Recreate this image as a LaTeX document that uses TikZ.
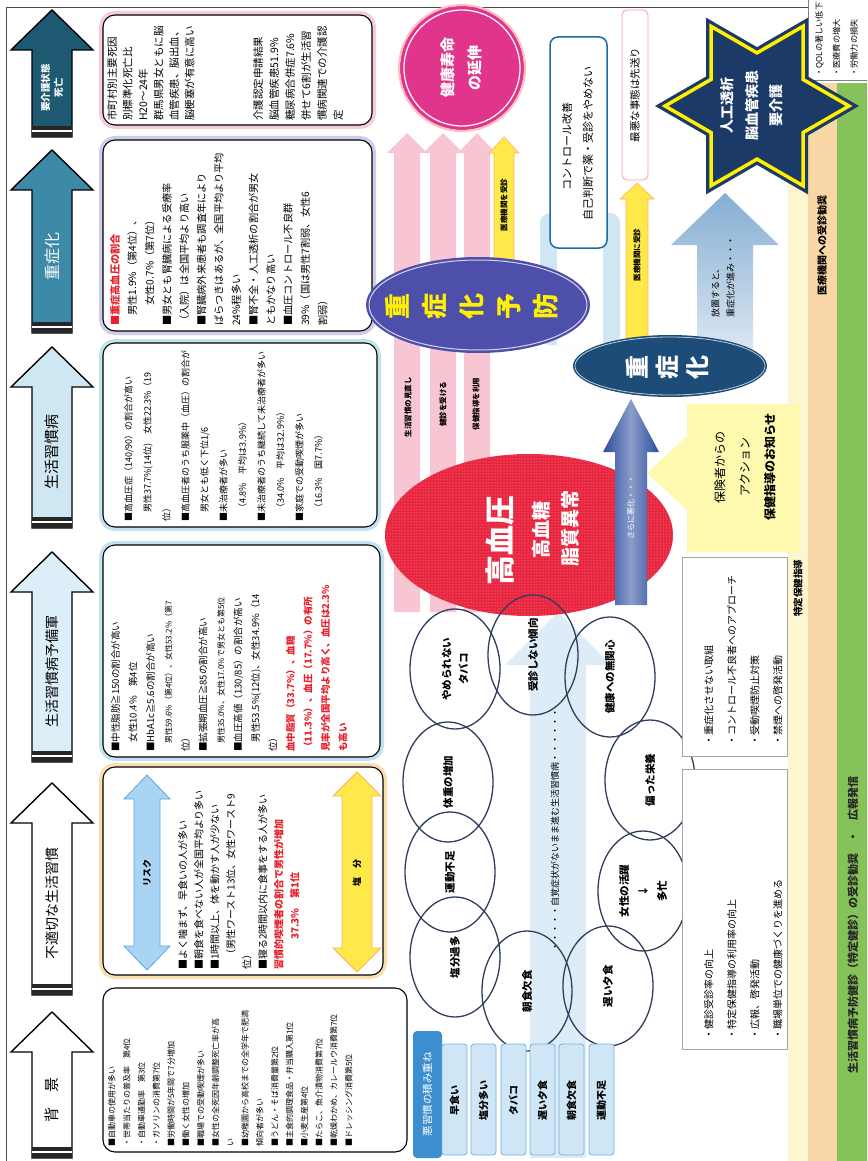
\documentclass[tikz,border=0pt]{standalone}
\usepackage{fontspec}
\setmainfont{Noto Sans CJK JP}
\usetikzlibrary{patterns}
\definecolor{hdark}{HTML}{1D5A72}
\definecolor{hmid}{HTML}{3C8AA8}
\definecolor{hlight}{HTML}{CFE7F2}
\definecolor{hlight2}{HTML}{DCEEF7}
\definecolor{gpink}{HTML}{F2A3B4}
\definecolor{gpurple}{HTML}{A7A2DC}
\definecolor{gblue}{HTML}{8FCBE6}
\definecolor{gorange}{HTML}{F7C46A}
\definecolor{magentaC}{HTML}{E0358B}
\definecolor{redC}{HTML}{E8253F}
\definecolor{purpleC}{HTML}{4E4FAA}
\definecolor{navyC}{HTML}{1E4C78}
\definecolor{pinkA}{HTML}{F7C6D2}
\definecolor{yellowA}{HTML}{FFE84A}
\definecolor{steelA}{HTML}{86AED3}
\definecolor{darkblueA}{HTML}{2B4D9E}
\definecolor{starNavy}{HTML}{1B3A68}
\definecolor{starYellow}{HTML}{FFF000}
\definecolor{paleY}{HTML}{FDF6D0}
\definecolor{orangeB}{HTML}{F9D6A6}
\definecolor{greenB}{HTML}{86C25A}
\definecolor{ringC}{HTML}{2E3E5C}
\definecolor{itemB}{HTML}{CFE6F6}
\definecolor{itemE}{HTML}{3B8FD0}
\definecolor{redT}{HTML}{E8202A}
\definecolor{paleBlue}{HTML}{CFE6F3}
\definecolor{ltBlue}{HTML}{DDECF7}
\definecolor{ctrlBlue}{HTML}{1B6AA5}
\definecolor{riskA}{HTML}{A9D4F2}
\definecolor{riskE}{HTML}{5AA8E0}

\newcommand\HdrArrow[5]{%
  \draw[line width=1.4pt, fill=#3, line join=miter] (32,#2) -- (32,#1+40) -- (11,#1+40) -- (52,#1) -- (93,#1+40) -- (72,#1+40) -- (72,#2) -- cycle;
  \fill[black!85] (32,#2-11) rectangle (72,#2);
  \fill[white] (32,#2-7) rectangle (72,#2-5);
  \node[vc,#5] at (52,{(#1+#2+29)/2}) {#4};}
\newcommand\GBox[5]{%
  \draw[#5, line width=8pt, opacity=0.55, rounded corners=12pt] (#1,#2) rectangle (#3,#4);
  \draw[line width=1.1pt, fill=white, rounded corners=12pt] (#1,#2) rectangle (#3,#4);}
\newcommand\UpArrow[7]{%
  \path[#7] (#1-#4,#3) -- (#1-#4,#2+#6) -- (#1-#5,#2+#6) -- (#1,#2) -- (#1+#5,#2+#6) -- (#1+#4,#2+#6) -- (#1+#4,#3) -- cycle;}
\newcommand\DblArrow[7]{%
  \path[#7] (#1-#4,#3-#6) -- (#1-#4,#2+#6) -- (#1-#5,#2+#6) -- (#1,#2) -- (#1+#5,#2+#6) -- (#1+#4,#2+#6) -- (#1+#4,#3-#6) -- (#1+#5,#3-#6) -- (#1,#3) -- (#1-#5,#3-#6) -- cycle;}

\begin{document}
\begin{tikzpicture}[x=1pt,y=-1pt,
  vt/.style={rotate=90, inner sep=0pt, align=left},
  vc/.style={rotate=90, inner sep=0pt, align=center},
  ring/.style={draw=ringC, line width=1.3pt},
  bx/.style={vt, anchor=north west},
  rl/.style={vc, font=\bfseries\fontsize{10.5}{17}\selectfont}]
\useasboundingbox (0,0) rectangle (867,1161);
\fill[white] (0,0) rectangle (867,1161);
\begin{scope}
\clip (0,0) rectangle (867,1161);

% ---------- right bands ----------
\fill[paleY] (788,83) rectangle (808,1161);
\fill[orangeB] (808,83) rectangle (837,1161);
\fill[greenB] (837,83) rectangle (867,1161);
\node[vc, font=\bfseries\fontsize{10}{10}\selectfont] (lblJ) at (822,245) {医療機関への受診勧奨};
\node[vc, font=\bfseries\fontsize{9.5}{10}\selectfont] (lblT) at (798,588) {特定保健指導};
\node[vc, font=\bfseries\fontsize{11}{11}\selectfont, text=black!85] (lblG) at (853,925) {生活習慣病予防健診（特定健診）の受診勧奨　・　広報発信};

% QOL box
\draw[black!50, fill=white] (808,-5) rectangle (880,80);
\node[bx, font=\fontsize{8.2}{17.5}\selectfont] (qol) at (815,77) {・QOLの著しい低下\\・医療費の増大\\・労働力の損失};

% frame
\draw[black!70, line width=0.8pt] (808,7) -- (6,7) -- (6,1161);

% ---------- header arrows ----------
\HdrArrow{10}{137}{hdark}{要介護状態\\死亡}{text=white, font=\bfseries\fontsize{9.5}{13}\selectfont}
\HdrArrow{150}{333}{hmid}{重症化}{text=white, font=\fontsize{16}{16}\selectfont}
\HdrArrow{347}{528}{hlight}{生活習慣病}{font=\fontsize{15}{15}\selectfont}
\HdrArrow{552}{762}{hlight2}{生活習慣病予備軍}{font=\fontsize{14}{14}\selectfont}
\HdrArrow{783}{995}{white}{不適切な生活習慣}{font=\fontsize{14}{14}\selectfont}
\HdrArrow{1012}{1158}{white}{背　景}{font=\fontsize{15}{15}\selectfont}

% ---------- content boxes ----------
\GBox{103}{15}{372}{125}{gpink}
\node[bx, font=\fontsize{10.5}{15.5}\selectfont] (b6a) at (107,121) {市町村別主要死因\\別標準化死亡比\\H20～24年\\群馬県男女ともに脳\\血管疾患、脳出血、\\脳梗塞が有意に高い};
\node[bx, font=\fontsize{10.5}{16}\selectfont] (b6b) at (253,121) {介護認定申請結果\\脳血管疾患51.9\%\\糖尿病合併症7.6\%\\併せて6割が生活習\\慣病関連での介護認\\定};

\GBox{103}{140}{372}{331}{gpurple}
\node[bx, font=\fontsize{10.2}{17.3}\selectfont] (b5) at (110,326) {{\color{redT}\bfseries ■重症高血圧の割合}\\　男性1.9\%（第4位）、\\　　女性0.7\%（第7位）\\■男女とも腎臓病による受療率\\（入院）は全国平均より高い\\■腎臓病外来患者も調査年により\\ばらつきはあるが、全国平均より平均\\24\%程多い\\■腎不全・人工透析の割合が男女\\ともかなり高い\\■血圧コントロール不良群\\39\%（国は男性7割弱、女性6\\割弱）};

\GBox{103}{343}{377}{527}{gblue}
\node[bx, font=\fontsize{9}{19}\selectfont] (b4) at (124,522) {■高血圧症（140/90）の割合が高い\\　男性37.7\%(14位)　女性22.3\%（19\\位）\\■高血圧者のうち服薬中（血圧）の割合が\\　男女とも低く下位1/6\\■未治療者が多い\\　（4.8\%　平均は3.9\%）\\■未治療者のうち継続して未治療者が多い\\　（34.0\%　平均は32.9\%）\\■家庭での受動喫煙が多い\\　（16.3\%　国7.7\%）};

\GBox{103}{545}{380}{757}{gblue}
\node[bx, font=\fontsize{9.5}{17.5}\selectfont] (b3) at (111,752) {■中性脂肪≧150の割合が高い\\　女性10.4\%　第4位\\■HbA1c≧5.6の割合が高い\\{\fontsize{8}{10}\selectfont 　男性59.6\%（第4位）、女性53.2\%（第7}\\位）\\■拡張期血圧≧85の割合が高い\\{\fontsize{8}{10}\selectfont 　男性35.0\%、女性17.0\%で男女とも第5位}\\■血圧高値（130/85）の割合が高い\\　男性53.5\%(12位)、女性34.9\%（14\\位）\\{\color{redT}\bfseries 血中脂質（33.7\%）、血糖}\\{\color{redT}\bfseries （11.3\%）、血圧（17.7\%）の有所}\\{\color{redT}\bfseries 見率が全国平均より高く、血圧は2.3\%}\\{\color{redT}\bfseries も高い}};

\GBox{103}{767}{383}{975}{gorange}
\DblArrow{147}{775}{970}{13}{23}{24}{fill=riskA, draw=riskE, line width=0.8pt}
\node[vc, font=\bfseries\fontsize{9}{9}\selectfont] (risk) at (147,873) {リスク};
\DblArrow{357}{772}{972}{15}{24}{24}{fill=yellowA, draw=orange!60, line width=0.8pt}
\node[vc, font=\bfseries\fontsize{9}{9}\selectfont] (salt) at (357,873) {塩　分};
\node[bx, font=\fontsize{10}{16}\selectfont] (b2) at (178,970) {■よく噛まず、早食いの人が多い\\■朝食を食べない人が全国平均より多い\\■1時間以上、体を動かす人が少ない\\　（男性ワースト13位、女性ワースト9\\位）\\■寝る2時間以内に食事をする人が多い\\{\color{redT}\bfseries 習慣的喫煙者の割合で男性が増加}\\{\color{redT}\bfseries 　　　37.3\%　第1位}};

\draw[line width=1.1pt, fill=white, rounded corners=12pt] (103,988) rectangle (407,1152);
\node[bx, font=\fontsize{8}{14.8}\selectfont] (b1) at (108,1147) {■自動車の使用が多い\\・世帯当たりの普及率　第4位\\・自動車通勤率　第3位\\・ガソリンの消費第7位\\■労働時間が5年間で7分増加\\■働く女性の増加\\■職場での受動喫煙が多い\\■女性の全死因年齢調整死亡率が高\\い\\■幼稚園から高校までの全学年で肥満\\傾向者が多い\\■うどん・そば消費量第2位\\■主食的調理食品・弁当購入第1位\\■小麦生産第4位\\■たらこ、魚介漬物消費第7位\\■乾燥わかめ、カレールウ消費第7位\\■ドレッシング消費第5位};

% ---------- pink arrows ----------
\UpArrow{407}{133}{612}{13}{20}{20}{fill=pinkA}
\UpArrow{443}{133}{612}{13}{20}{20}{fill=pinkA}
\UpArrow{477}{133}{612}{13}{19}{20}{fill=pinkA}
\UpArrow{504}{137}{290}{10}{15}{16}{fill=yellowA, draw=orange!60, line width=0.6pt}
\node[vc, font=\bfseries\fontsize{7.5}{8}\selectfont] (lblY1) at (504,205) {医療機関を受診};

% 健康寿命
\fill[magentaC] (462,68) circle (62pt);
\draw[pink, line width=2pt] (462,68) circle (63pt);
\draw[white, line width=1.2pt] (462,68) circle (58pt);
\node[vc, text=white, font=\bfseries\fontsize{15}{27}\selectfont] (kenko) at (461,68) {健康寿命\\の延伸};

% pale blue U (behind)
\fill[paleBlue, rounded corners=10pt] (540,213) rectangle (620,345);
\fill[white] (557,226) rectangle (603,345);

% 重症化予防
\fill[purpleC] (478,305) ellipse [x radius=112pt, y radius=48pt];
\draw[white!75!purpleC, line width=1pt] (478,305) ellipse [x radius=109pt, y radius=45pt];
\node[vc, text=starYellow, font=\bfseries\fontsize{26}{37}\selectfont] (yobo) at (472,306) {重\\症\\化\\予\\防};

% labels on pink arrows
\node[vc, font=\bfseries\fontsize{7.5}{8}\selectfont] (lp1) at (408,407) {生活習慣の見直し};
\node[vc, font=\bfseries\fontsize{7.5}{8}\selectfont] (lp2) at (443,404) {健診を受ける};
\node[vc, font=\bfseries\fontsize{7.5}{8}\selectfont] (lp3) at (476,404) {保健指導を利用};

% light blue background arrow behind ring
\UpArrow{558}{612}{1158}{28}{53}{53}{fill=ltBlue}

% 高血圧 ellipse
\fill[redC] (529,535) ellipse [x radius=144pt, y radius=81pt];
\fill[pattern=dots, pattern color=white!55!redC] (529,535) ellipse [x radius=144pt, y radius=81pt];
\node[vc, text=white, font=\bfseries\fontsize{30}{30}\selectfont] (hbp) at (500,540) {高血圧};
\node[vc, text=white, font=\bfseries\fontsize{19}{19}\selectfont] (hbs) at (541,530) {高血糖};
\node[vc, text=white, font=\bfseries\fontsize{19}{19}\selectfont] (lip) at (570,528) {脂質異常};

% ring of circles
\foreach \cx/\cy in {455/669, 533/655, 610/677, 650/780, 643/891, 608/986, 527/991, 455/957, 450/872, 448/782}{
  \draw[ring] (\cx,\cy) ellipse [x radius=45pt, y radius=60pt];}
\node[rl] (c1) at (455,669) {やめられない\\タバコ};
\node[rl] (c2) at (533,655) {受診しない傾向};
\node[rl] (c3) at (610,677) {健康への無関心};
\node[rl] (c4) at (650,780) {偏った栄養};
\node[rl, font=\bfseries\fontsize{10.5}{19}\selectfont] (c5) at (643,891) {女性の活躍\\↓\\多忙};
\node[rl] (c6) at (608,986) {遅い夕食};
\node[rl] (c7) at (527,991) {朝食欠食};
\node[rl] (c8) at (455,957) {塩分過多};
\node[rl] (c9) at (450,872) {運動不足};
\node[rl] (c10) at (448,782) {体重の増加};
\node[vc, font=\fontsize{9}{9}\selectfont] (jikaku) at (555,830) {・・・・・自覚症状がないまま進む生活習慣病・・・・・・};

% control box
\draw[ctrlBlue, line width=1.5pt, fill=white, rounded corners=8pt] (550,37) rectangle (607,248);
\node[vc, font=\fontsize{11}{11}\selectfont] (ctrl1) at (567,147) {コントロール改善};
\node[vc, font=\fontsize{11}{11}\selectfont] (ctrl2) at (588,143) {自己判断で薬・受診をやめない};

% 最悪な事態
\UpArrow{637}{183}{345}{11}{17}{16}{fill=yellowA, draw=orange!60, line width=0.6pt}
\node[vc, font=\bfseries\fontsize{7.5}{8}\selectfont] (lblY2) at (637,255) {医療機関に受診};
\draw[pink!80!red, line width=0.8pt, fill=white, rounded corners=5pt] (622,10) rectangle (648,180);
\node[vc, font=\fontsize{10.5}{11}\selectfont] (saiaku) at (635,95) {最悪な事態は先送り};

% 放置 arrow
\UpArrow{725}{193}{350}{28}{54}{52}{top color=steelA, bottom color=steelA!30}
\node[bx, font=\fontsize{9}{15}\selectfont] (hochi) at (711,318) {放置すると、\\重症化が進み・・・};

% 重症化 ellipse
\fill[navyC] (670,366) ellipse [x radius=97pt, y radius=31pt];
\draw[white!70!navyC, line width=0.8pt] (670,366) ellipse [x radius=95pt, y radius=29pt];
\node[vc, text=white, font=\bfseries\fontsize{24}{30}\selectfont] (jusho) at (667,367) {重\\症\\化};

% さらに悪化 arrow
\UpArrow{631}{399}{605}{16}{28}{53}{left color=darkblueA, right color=darkblueA, middle color=darkblueA!55}
\node[vc, text=white, font=\fontsize{8}{8}\selectfont] (akka) at (631,507) {さらに悪化・・・};

% star
\path[fill=starNavy, draw=starNavy, line width=10pt, line join=miter] (849,106) -- (803,79.45) -- (803,26.3) -- (757,52.9) -- (711,26.3) -- (711,79.45) -- (665,106) -- (711,132.55) -- (711,185.7) -- (757,159.1) -- (803,185.7) -- (803,132.55) -- cycle;
\draw[starYellow, line width=3.5pt, line join=miter] (849,106) -- (803,79.45) -- (803,26.3) -- (757,52.9) -- (711,26.3) -- (711,79.45) -- (665,106) -- (711,132.55) -- (711,185.7) -- (757,159.1) -- (803,185.7) -- (803,132.55) -- cycle;
\node[vc, text=white, font=\bfseries\fontsize{14}{24.5}\selectfont] (star) at (752,106) {人工透析\\脳血管疾患\\要介護};

% 保険者からのアクション
\fill[paleY!80!yellow!90!white] (800,404) -- (687,404) -- (687,436) -- (647,473) -- (687,510) -- (687,552) -- (800,552) -- cycle;
\node[vc, font=\fontsize{12}{25}\selectfont] (hoken) at (745,467) {保険者からの\\アクション\\{\bfseries 保健指導のお知らせ}};

% bottom boxes
\draw[black!35, fill=white] (682,557) rectangle (787,756);
\node[bx, font=\fontsize{10}{23}\selectfont] (boxA) at (704,746) {・重症化させない取組\\・コントロール不良者へのアプローチ\\・受動喫煙防止対策\\・禁煙への啓発活動};
\draw[black!35, fill=white] (682,769) rectangle (787,1049);
\node[bx, font=\fontsize{10}{23}\selectfont] (boxB) at (704,1040) {・健診受診率の向上\\・特定保健指導の利用率の向上\\・広報、啓発活動\\・職場単位での健康づくりを進める};

% 悪習慣の積み重ね
\fill[itemE, rounded corners=4pt] (413,1031) rectangle (442,1158);
\node[vc, text=white, font=\fontsize{10.5}{10}\selectfont] (akushu) at (427.5,1094) {悪習慣の積み重ね};
\foreach \t/\cx [count=\i] in {早食い/454.5, 塩分多い/483.5, タバコ/513.5, 遅い夕食/542.5, 朝食欠食/571.5, 運動不足/601.5}{
  \draw[itemE!70, line width=0.8pt, fill=itemB, rounded corners=3pt] (\cx-12.5,1044) rectangle (\cx+12.5,1155);
  \node[vc, font=\bfseries\fontsize{10}{10}\selectfont] (it\i) at (\cx,1100) {\t};}
\end{scope}
\end{tikzpicture}
\end{document}
